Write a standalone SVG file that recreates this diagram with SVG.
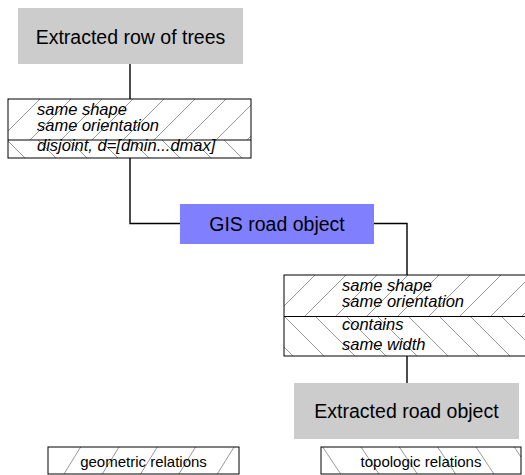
<svg xmlns="http://www.w3.org/2000/svg" width="525" height="475" viewBox="0 0 525 475">
  <style>
    .title { font-family: "Liberation Sans", Arial, sans-serif; font-size: 19.5px; fill: #000; text-anchor: middle; }
    .rel { font-family: "Liberation Sans", Arial, sans-serif; font-size: 16.5px; font-style: italic; fill: #000; }
    .leg { font-family: "Liberation Sans", Arial, sans-serif; font-size: 15px; fill: #000; text-anchor: middle; }
    .frame { fill: none; stroke: #000; stroke-width: 1; }
    .hl { stroke: #8c8c8c; stroke-width: 0.9; fill: none; }
    .conn { fill: none; stroke: #000; stroke-width: 1.4; }
    .gray { fill: #cccccc; }
  </style>
  <defs>
    <pattern id="fw1" patternUnits="userSpaceOnUse" x="15" y="0" width="31" height="31">
      <path class="hl" d="M0,31 L31,0 M-1,1 L1,-1 M30,32 L32,30"/>
    </pattern>
    <pattern id="bw1" patternUnits="userSpaceOnUse" x="22" y="0" width="31" height="31">
      <path class="hl" d="M0,0 L31,31 M-1,30 L1,32 M30,-1 L32,1"/>
    </pattern>
    <pattern id="fw2" patternUnits="userSpaceOnUse" x="1" y="0" width="31" height="31">
      <path class="hl" d="M0,31 L31,0 M-1,1 L1,-1 M30,32 L32,30"/>
    </pattern>
    <pattern id="bw2" patternUnits="userSpaceOnUse" x="30" y="0" width="31" height="31">
      <path class="hl" d="M0,0 L31,31 M-1,30 L1,32 M30,-1 L32,1"/>
    </pattern>
  </defs>

  <g id="connectors">
    <path class="conn" d="M130,64 V99"/>
    <path class="conn" d="M130,158 V223.5 H180"/>
    <path class="conn" d="M374,223.5 H407 V275"/>
    <path class="conn" d="M407,356 V383"/>
  </g>

  <g id="node-trees">
    <rect class="gray" x="18" y="8" width="225" height="56"/>
    <text class="title" x="130.5" y="43.5">Extracted row of trees</text>
  </g>

  <g id="node-relations-1">
    <rect x="8" y="99" width="243" height="41" fill="url(#fw1)"/>
    <rect x="8" y="140" width="243" height="18" fill="url(#bw1)"/>
    <rect class="frame" x="8" y="99" width="243" height="59"/>
    <line class="frame" x1="8" y1="140" x2="251" y2="140"/>
    <text class="rel" x="37" y="114.5">same shape</text>
    <text class="rel" x="37" y="131">same orientation</text>
    <text class="rel" x="37" y="150.5">disjoint, d=[dmin...dmax]</text>
  </g>

  <g id="node-gis">
    <rect x="180" y="204" width="194" height="40" fill="#8080ff"/>
    <text class="title" x="277" y="231">GIS road object</text>
  </g>

  <g id="node-relations-2">
    <rect x="284" y="275" width="243" height="41.5" fill="url(#fw2)"/>
    <rect x="284" y="316.5" width="243" height="39.5" fill="url(#bw2)"/>
    <rect class="frame" x="284" y="275" width="243" height="81"/>
    <line class="frame" x1="284" y1="316.5" x2="527" y2="316.5"/>
    <text class="rel" x="342" y="290.5">same shape</text>
    <text class="rel" x="342" y="307">same orientation</text>
    <text class="rel" x="342" y="330">contains</text>
    <text class="rel" x="342" y="350">same width</text>
  </g>

  <g id="node-road">
    <rect class="gray" x="294" y="383" width="225" height="56"/>
    <text class="title" x="406.5" y="418">Extracted road object</text>
  </g>

  <g id="legend-geometric">
    <path class="hl" d="M80.7,447 L64,474 M119,447 L102.3,474 M157.3,447 L140.6,474 M195.6,447 L178.9,474 M234,447 L217.3,474"/>
    <rect class="frame" x="48" y="447" width="191" height="27"/>
    <text class="leg" x="143.5" y="467">geometric relations</text>
  </g>

  <g id="legend-topologic">
    <path class="hl" d="M322.7,447 L340.7,474 M361,447 L379,474 M399.3,447 L417.3,474 M437.6,447 L455.6,474 M476,447 L494,474 M514.3,447 L521,457"/>
    <rect class="frame" x="321" y="447" width="200" height="27"/>
    <text class="leg" x="421" y="467">topologic relations</text>
  </g>
</svg>
